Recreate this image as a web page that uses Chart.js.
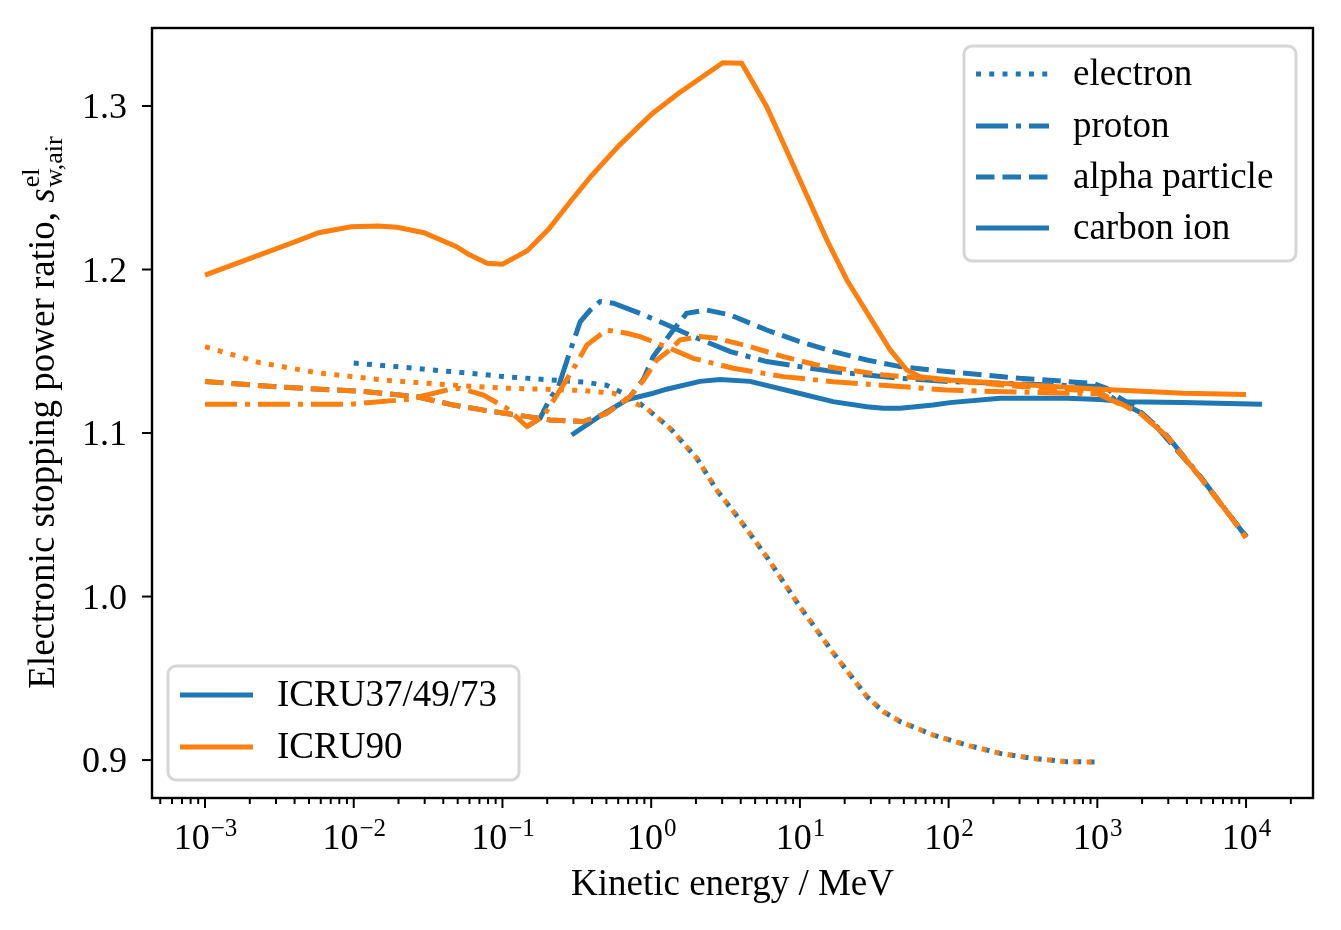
<!DOCTYPE html>
<html>
<head>
<meta charset="utf-8">
<script src="https://cdn.jsdelivr.net/npm/chart.js@4.4.0/dist/chart.umd.min.js"></script>
<style>
  html, body { margin: 0; padding: 0; background: #fff; }
  canvas { display: block; }
</style>
</head>
<body>
<canvas id="sprChart" width="1341" height="930"></canvas>
<script>
// Energies in MeV, ratios
const electronE_old = [0.01, 0.02, 0.05, 0.1, 0.2, 0.35, 0.5, 0.69, 0.93, 1.34, 2.03, 2.76, 3.96, 5.98, 10, 16.8, 28.2, 36.4, 47.3, 79, 132, 222, 372, 624, 1000];
const electron_old  = [1.1428, 1.1405, 1.1372, 1.1346, 1.1326, 1.1312, 1.1292, 1.1233, 1.1151, 1.1029, 1.0845, 1.0651, 1.0468, 1.0243, 0.9938, 0.9654, 0.9388, 0.9296, 0.9235, 0.9153, 0.9092, 0.9041, 0.9010, 0.8990, 0.8988];
const electronE_new = [0.001, 0.00234, 0.00564, 0.0158, 0.0445, 0.1, 0.2, 0.35, 0.56, 0.69, 0.93, 1.34, 2.03, 2.76, 3.96, 5.98, 10, 16.8, 28.2, 36.4, 47.3, 79, 132, 222, 372, 624, 1000];
const electron_new  = [1.1528, 1.1430, 1.1369, 1.1324, 1.1294, 1.1275, 1.1267, 1.1260, 1.1243, 1.1202, 1.1151, 1.1029, 1.0845, 1.0651, 1.0468, 1.0243, 0.9938, 0.9654, 0.9388, 0.9296, 0.9235, 0.9153, 0.9092, 0.9041, 0.9010, 0.8990, 0.8988];

const protonE_old = [0.146, 0.179, 0.209, 0.238, 0.28, 0.333, 0.389, 0.453, 0.557, 0.841, 1.21, 1.92, 3.41, 5.98, 10, 16.8, 28.2, 47.3, 102, 300, 1000, 1290, 1950, 2930, 4910, 8200, 10000];
const proton_old  = [1.1039, 1.1090, 1.1212, 1.1284, 1.1480, 1.1680, 1.1752, 1.1804, 1.1794, 1.1732, 1.1671, 1.1590, 1.1498, 1.1437, 1.1406, 1.1376, 1.1355, 1.1335, 1.1314, 1.1300, 1.1285, 1.1210, 1.1125, 1.0985, 1.0735, 1.0470, 1.0366];
const protonE_new = [0.001, 0.0094, 0.0239, 0.0445, 0.0519, 0.0745, 0.107, 0.146, 0.188, 0.244, 0.316, 0.369, 0.5, 0.686, 0.841, 1.34, 1.92, 3.57, 7.74, 16.8, 47.3, 97, 300, 1000, 1290, 1950, 2930, 4910, 8200, 10000];
const proton_new  = [1.1176, 1.1176, 1.1207, 1.1268, 1.1274, 1.1232, 1.1151, 1.1040, 1.1100, 1.1263, 1.1427, 1.1538, 1.1630, 1.1610, 1.1590, 1.1518, 1.1457, 1.1396, 1.1345, 1.1314, 1.1284, 1.1263, 1.1250, 1.1240, 1.1195, 1.1120, 1.0980, 1.0730, 1.0468, 1.0360];

const alphaE_old = [0.001, 0.00335, 0.0122, 0.0265, 0.0468, 0.0745, 0.125, 0.209, 0.35, 0.5, 0.72, 0.89, 1.03, 1.41, 1.73, 2.36, 3.41, 5.98, 10, 16.8, 28.2, 47.3, 97, 300, 940, 1160, 1370, 1840, 2380, 4910, 8200, 10100];
const alpha_old  = [1.1315, 1.1280, 1.1253, 1.1222, 1.1171, 1.1140, 1.1110, 1.1080, 1.1070, 1.1120, 1.1222, 1.1330, 1.1467, 1.1630, 1.1732, 1.1752, 1.1722, 1.1630, 1.1559, 1.1498, 1.1447, 1.1406, 1.1376, 1.1335, 1.1304, 1.1273, 1.1222, 1.1151, 1.1060, 1.0733, 1.0468, 1.0366];
const alphaE_new = [0.001, 0.00335, 0.0122, 0.0265, 0.0468, 0.0745, 0.125, 0.209, 0.35, 0.5, 0.72, 0.89, 1.09, 1.34, 1.56, 2.13, 2.76, 4.62, 7.74, 13, 21.7, 36.4, 79, 300, 1000, 1290, 1950, 2930, 4910, 8200, 10000];
const alpha_new  = [1.1315, 1.1280, 1.1253, 1.1222, 1.1171, 1.1140, 1.1110, 1.1080, 1.1070, 1.1120, 1.1222, 1.1324, 1.1447, 1.1508, 1.1569, 1.1590, 1.1580, 1.1528, 1.1467, 1.1416, 1.1385, 1.1355, 1.1329, 1.1285, 1.1255, 1.1200, 1.1120, 1.0980, 1.0730, 1.0468, 1.0360];

const carbonE_old = [0.292, 0.453, 0.69, 1.0, 1.27, 2.13, 2.9, 4.62, 10, 16.7, 28.2, 36.3, 47.3, 78.7, 102, 222, 626, 1040, 1580, 3780, 12800];
const carbon_old  = [1.0988, 1.1105, 1.1205, 1.1240, 1.1268, 1.1316, 1.1328, 1.1316, 1.1242, 1.1192, 1.1161, 1.1151, 1.1151, 1.1171, 1.1186, 1.1213, 1.1213, 1.1205, 1.1192, 1.1186, 1.1176];
const carbonE_new = [0.001, 0.00406, 0.00581, 0.00959, 0.01455, 0.01954, 0.0297, 0.0491, 0.0587, 0.0789, 0.1, 0.147, 0.204, 0.292, 0.392, 0.612, 1.01, 1.53, 3.03, 4.06, 4.86, 5.98, 7.74, 10, 15.2, 20.7, 40.5, 52.4, 64.3, 102, 222, 1045, 3776, 10000];
const carbon_new  = [1.1966, 1.2170, 1.2225, 1.2262, 1.2266, 1.2258, 1.2225, 1.2140, 1.2095, 1.2038, 1.2032, 1.2115, 1.2246, 1.2425, 1.2568, 1.2761, 1.2951, 1.3078, 1.3265, 1.3262, 1.3139, 1.2996, 1.2772, 1.2547, 1.2180, 1.1936, 1.1508, 1.1385, 1.1344, 1.1324, 1.1304, 1.1268, 1.1243, 1.1235];

const particleLabels = ['electron', 'proton', 'alpha particle', 'carbon ion'];
const dataLabels = ['ICRU37/49/73', 'ICRU90'];
const xTickExponents = [-3, -2, -1, 0, 1, 2, 3, 4];
const yTicks = [0.9, 1.0, 1.1, 1.2, 1.3];

const BLUE = '#1f77b4';
const ORANGE = '#ff7f0e';
const LW = 5;
const FS = 37;      // titles and legend text
const TFS = 36;     // tick labels
const FONT = '"Liberation Serif", "DejaVu Serif", serif';

// matplotlib-like dash patterns scaled by line width
const DASH = {
  electron: [LW, 1.65 * LW],
  proton: [6.4 * LW, 1.6 * LW, LW, 1.6 * LW],
  alpha: [3.7 * LW, 1.6 * LW],
  carbon: []
};

function pts(xs, ys) {
  return xs.map((e, i) => ({ x: e, y: ys[i] }));
}

function series(xs, ys, color, dash) {
  return {
    data: pts(xs, ys),
    borderColor: color,
    borderDash: dash,
    borderWidth: LW,
    pointRadius: 0,
    tension: 0,
    fill: false
  };
}

// first datasets are drawn on top, so ICRU90 goes first
const datasets = [
  series(electronE_new, electron_new, ORANGE, DASH.electron),
  series(protonE_new, proton_new, ORANGE, DASH.proton),
  series(alphaE_new, alpha_new, ORANGE, DASH.alpha),
  series(carbonE_new, carbon_new, ORANGE, DASH.carbon),
  series(electronE_old, electron_old, BLUE, DASH.electron),
  series(protonE_old, proton_old, BLUE, DASH.proton),
  series(alphaE_old, alpha_old, BLUE, DASH.alpha),
  series(carbonE_old, carbon_old, BLUE, DASH.carbon)
];

function roundRect(ctx, x, y, w, h, r) {
  ctx.beginPath();
  ctx.moveTo(x + r, y);
  ctx.lineTo(x + w - r, y);
  ctx.arcTo(x + w, y, x + w, y + r, r);
  ctx.lineTo(x + w, y + h - r);
  ctx.arcTo(x + w, y + h, x + w - r, y + h, r);
  ctx.lineTo(x + r, y + h);
  ctx.arcTo(x, y + h, x, y + h - r, r);
  ctx.lineTo(x, y + r);
  ctx.arcTo(x, y, x + r, y, r);
  ctx.closePath();
}

function drawLegend(ctx, box, rows) {
  ctx.save();
  roundRect(ctx, box.x, box.y, box.w, box.h, 8);
  ctx.fillStyle = 'rgba(255,255,255,0.8)';
  ctx.fill();
  ctx.strokeStyle = '#d6d6d6';
  ctx.lineWidth = 3;
  ctx.stroke();
  rows.forEach(r => {
    ctx.beginPath();
    ctx.setLineDash(r.dash);
    ctx.lineCap = 'butt';
    ctx.strokeStyle = r.color;
    ctx.lineWidth = LW;
    ctx.moveTo(box.x + 12, r.y);
    ctx.lineTo(box.x + 85, r.y);
    ctx.stroke();
    ctx.setLineDash([]);
    ctx.fillStyle = '#000';
    ctx.font = `${FS}px ${FONT}`;
    ctx.textAlign = 'left';
    ctx.textBaseline = 'alphabetic';
    ctx.fillText(r.text, box.x + 109, r.y + 11);
  });
  ctx.restore();
}

const decorations = {
  id: 'decorations',
  afterDraw(chart) {
    const { ctx, chartArea: a, scales: { x, y } } = chart;
    ctx.save();
    ctx.strokeStyle = '#000';
    ctx.fillStyle = '#000';

    // frame
    ctx.lineWidth = 2.4;
    ctx.strokeRect(a.left, a.top, a.right - a.left, a.bottom - a.top);

    // x ticks (major + minor)
    ctx.lineWidth = 2;
    for (let k = -4; k <= 4; k++) {
      for (let m = 1; m <= 9; m++) {
        const v = m * Math.pow(10, k);
        if (v < x.min || v > x.max) continue;
        const px = x.getPixelForValue(v);
        const len = m === 1 ? 10 : 6;
        ctx.beginPath();
        ctx.moveTo(px, a.bottom);
        ctx.lineTo(px, a.bottom + len);
        ctx.stroke();
      }
    }
    const supSize = Math.round(TFS * 0.7);
    xTickExponents.forEach(k => {
      const px = x.getPixelForValue(Math.pow(10, k));
      const sup = (k < 0 ? '\u2212' : '') + Math.abs(k);
      ctx.font = `${TFS}px ${FONT}`;
      const wb = ctx.measureText('10').width;
      ctx.font = `${supSize}px ${FONT}`;
      const ws = ctx.measureText(sup).width;
      const x0 = px - (wb + ws) / 2;
      ctx.textAlign = 'left';
      ctx.textBaseline = 'alphabetic';
      ctx.font = `${TFS}px ${FONT}`;
      ctx.fillText('10', x0, a.bottom + 51);
      ctx.font = `${supSize}px ${FONT}`;
      ctx.fillText(sup, x0 + wb + 1, a.bottom + 38);
    });

    // y ticks
    yTicks.forEach(v => {
      const py = y.getPixelForValue(v);
      ctx.beginPath();
      ctx.moveTo(a.left, py);
      ctx.lineTo(a.left - 10, py);
      ctx.stroke();
      ctx.font = `${TFS}px ${FONT}`;
      ctx.textAlign = 'right';
      ctx.textBaseline = 'alphabetic';
      ctx.fillText(v.toFixed(1), a.left - 25, py + 12);
    });

    // x title
    ctx.font = `${FS}px ${FONT}`;
    ctx.textAlign = 'center';
    ctx.fillText('Kinetic energy / MeV', (a.left + a.right) / 2, a.bottom + 97);

    // y title with s^el_{w,air}
    ctx.save();
    const main = 'Electronic stopping power ratio, ';
    const small = Math.round(FS * 0.7);
    ctx.font = `${FS}px ${FONT}`;
    const w1 = ctx.measureText(main).width;
    ctx.font = `italic ${FS}px ${FONT}`;
    const w2 = ctx.measureText('s').width;
    ctx.font = `${small}px ${FONT}`;
    const w3 = Math.max(ctx.measureText('el').width, ctx.measureText('w,air').width);
    const total = w1 + w2 + w3;
    ctx.translate(54, (a.top + a.bottom) / 2);
    ctx.rotate(-Math.PI / 2);
    ctx.textAlign = 'left';
    let tx = -total / 2;
    ctx.font = `${FS}px ${FONT}`;
    ctx.fillText(main, tx, 0);
    tx += w1;
    ctx.font = `italic ${FS}px ${FONT}`;
    ctx.fillText('s', tx, 0);
    tx += w2 + 1;
    ctx.font = `${small}px ${FONT}`;
    ctx.fillText('el', tx, -15);
    ctx.fillText('w,air', tx, 8);
    ctx.restore();

    // legends
    drawLegend(ctx, { x: 964, y: 46, w: 332, h: 215 }, [
      { text: particleLabels[0], color: BLUE, dash: DASH.electron, y: 74 },
      { text: particleLabels[1], color: BLUE, dash: DASH.proton, y: 126 },
      { text: particleLabels[2], color: BLUE, dash: DASH.alpha, y: 177 },
      { text: particleLabels[3], color: BLUE, dash: DASH.carbon, y: 228 }
    ]);
    drawLegend(ctx, { x: 168, y: 666, w: 351, h: 114 }, [
      { text: dataLabels[0], color: BLUE, dash: [], y: 695 },
      { text: dataLabels[1], color: ORANGE, dash: [], y: 747 }
    ]);
    ctx.restore();
  }
};

const ctx = document.getElementById('sprChart').getContext('2d');
const chart = new Chart(ctx, {
  type: 'line',
  data: { datasets: datasets },
  options: {
    responsive: false,
    animation: false,
    devicePixelRatio: 1,
    layout: { padding: { top: 28, right: 28, left: 0, bottom: 0 } },
    plugins: { legend: { display: false }, tooltip: { enabled: false } },
    scales: {
      x: {
        type: 'logarithmic',
        min: 4.4e-4,
        max: 2.82e4,
        grid: { display: false },
        border: { display: false },
        ticks: { display: false },
        afterFit: (s) => { s.height = 132; }
      },
      y: {
        type: 'linear',
        min: 0.8768,
        max: 1.3477,
        grid: { display: false },
        border: { display: false },
        ticks: { display: false },
        afterFit: (s) => { s.width = 152; }
      }
    }
  },
  plugins: [decorations]
});
</script>
</body>
</html>
